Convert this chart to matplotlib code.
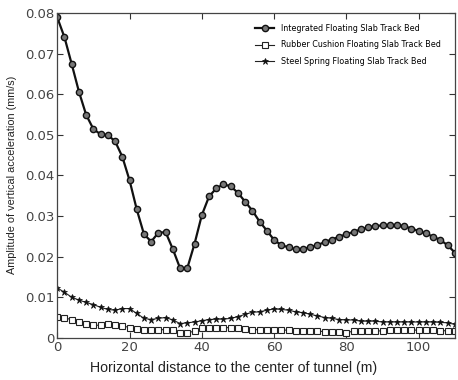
import numpy as np
import matplotlib
matplotlib.use("Agg")
import matplotlib.pyplot as plt

# distance from tunnel centre, every 2 m
distance = np.arange(0, 111, 2)

integrated = [
    0.0789, 0.0740, 0.0674, 0.0606, 0.0549, 0.0514, 0.0501, 0.0499, 0.0484, 0.0446,
    0.0388, 0.0316, 0.0255, 0.0237, 0.0259, 0.0260, 0.0218, 0.0171, 0.0172, 0.0232,
    0.0302, 0.0348, 0.0368, 0.0378, 0.0373, 0.0357, 0.0335, 0.0313, 0.0286, 0.0264,
    0.0241, 0.0228, 0.0223, 0.0218, 0.0218, 0.0224, 0.0228, 0.0236, 0.0242, 0.0249,
    0.0255, 0.0261, 0.0267, 0.0272, 0.0275, 0.0277, 0.0277, 0.0277, 0.0275, 0.0269,
    0.0263, 0.0257, 0.0249, 0.0241, 0.0228, 0.0210,
]

rubber = [
    0.0052, 0.0050, 0.0044, 0.0038, 0.0033, 0.0031, 0.0031, 0.0034, 0.0031, 0.0030,
    0.0025, 0.0021, 0.0020, 0.0020, 0.0020, 0.0020, 0.0019, 0.0011, 0.0013, 0.0016,
    0.0023, 0.0025, 0.0025, 0.0025, 0.0025, 0.0023, 0.0021, 0.0020, 0.0020, 0.0020,
    0.0019, 0.0019, 0.0019, 0.0017, 0.0017, 0.0017, 0.0017, 0.0015, 0.0014, 0.0014,
    0.0012, 0.0017, 0.0017, 0.0017, 0.0017, 0.0017, 0.0019, 0.0019, 0.0019, 0.0019,
    0.0019, 0.0019, 0.0019, 0.0018, 0.0017, 0.0016,
]

steel = [
    0.0123, 0.0112, 0.0100, 0.0093, 0.0087, 0.0082, 0.0075, 0.0070, 0.0068, 0.0072,
    0.0072, 0.0060, 0.0048, 0.0045, 0.0048, 0.0050, 0.0044, 0.0035, 0.0037, 0.0039,
    0.0042, 0.0045, 0.0046, 0.0046, 0.0048, 0.0052, 0.0058, 0.0063, 0.0064, 0.0068,
    0.0071, 0.0070, 0.0068, 0.0064, 0.0062, 0.0058, 0.0054, 0.0050, 0.0048, 0.0045,
    0.0044, 0.0044, 0.0041, 0.0041, 0.0041, 0.0039, 0.0039, 0.0039, 0.0039, 0.0039,
    0.0039, 0.0039, 0.0039, 0.0038, 0.0037, 0.0033,
]

labels = [
    "Integrated Floating Slab Track Bed",
    "Rubber Cushion Floating Slab Track Bed",
    "Steel Spring Floating Slab Track Bed",
]

fig = plt.figure(figsize=(4.58, 3.80), dpi=100)
ax = fig.add_axes([0.125, 0.111, 0.868, 0.855])

ax.plot(distance, integrated, color="#111111", lw=1.6, marker="o", ms=4.5,
        mfc="#777777", mec="#111111", mew=1.0, label=labels[0])
ax.plot(distance, rubber, color="#222222", lw=0.8, marker="s", ms=4.2,
        mfc="white", mec="#222222", mew=0.8, label=labels[1])
ax.plot(distance, steel, color="#222222", lw=0.8, marker="*", ms=4.5,
        mfc="#111111", mec="#111111", mew=0.5, label=labels[2])

ax.set_xlim(0, 110)
ax.set_ylim(0, 0.08)
ax.set_xticks([0, 20, 40, 60, 80, 100])
ax.set_yticks([0, 0.01, 0.02, 0.03, 0.04, 0.05, 0.06, 0.07, 0.08])
ax.set_yticklabels(["0", "0.01", "0.02", "0.03", "0.04", "0.05", "0.06", "0.07", "0.08"])

ax.tick_params(direction="in", top=True, right=True, length=4, width=0.8,
               labelsize=9.5, colors="#333333", labelcolor="#444444", pad=2)
for sp in ax.spines.values():
    sp.set_color("#444444")
    sp.set_linewidth(0.9)

ax.set_xlabel("Horizontal distance to the center of tunnel (m)", fontsize=10.2,
              family="Liberation Sans", color="#222222")
ax.xaxis.set_label_coords(0.444, -0.072)
ax.set_ylabel("Amplitude of vertical acceleration (mm/s)", fontsize=7.8,
              family="Liberation Sans", color="#222222", labelpad=6)

ax.legend(loc="upper right", frameon=False, fontsize=5.8, handlelength=2.4,
          borderaxespad=0.6, labelspacing=0.9, bbox_to_anchor=(0.985, 0.99))

fig.savefig("out.png", dpi=100)
